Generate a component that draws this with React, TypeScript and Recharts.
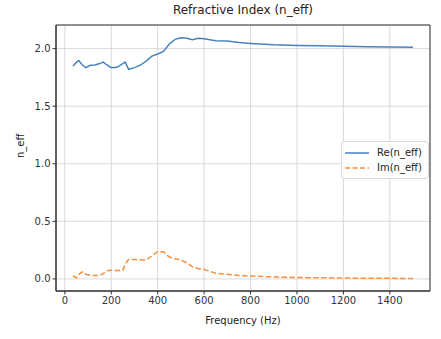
import {
  LineChart,
  Line,
  XAxis,
  YAxis,
  CartesianGrid,
  ReferenceArea,
} from 'recharts'

// Frequency samples (Hz)
const freqs = [
  35, 50, 60, 75, 90, 110, 130, 150, 165, 180, 200, 225, 250, 260, 275, 300, 325, 350, 375, 400,
  425, 450, 475, 500, 525, 550, 575, 600, 650, 700, 750, 800, 900, 1000, 1100, 1200, 1300, 1400, 1500,
]

// Re(n_eff)
const reValues = [
  1.849, 1.88, 1.897, 1.86, 1.834, 1.855, 1.857, 1.87, 1.883, 1.86, 1.834, 1.838, 1.87, 1.883, 1.82,
  1.835, 1.856, 1.89, 1.935, 1.953, 1.975, 2.04, 2.08, 2.095, 2.09, 2.078, 2.09, 2.086, 2.068, 2.065,
  2.052, 2.045, 2.034, 2.028, 2.024, 2.02, 2.016, 2.013, 2.011,
]

// Im(n_eff)
const imValues = [
  0.029, 0.009, 0.04, 0.061, 0.04, 0.031, 0.03, 0.03, 0.045, 0.07, 0.075, 0.073, 0.075, 0.13, 0.168,
  0.168, 0.167, 0.163, 0.2, 0.238, 0.235, 0.19, 0.175, 0.165, 0.14, 0.105, 0.09, 0.082, 0.05, 0.04,
  0.03, 0.025, 0.017, 0.012, 0.01, 0.008, 0.006, 0.005, 0.003,
]

const xTicks = [0, 200, 400, 600, 800, 1000, 1200, 1400]
const yTicks = [0, 0.5, 1.0, 1.5, 2.0]

const BLUE = '#4682c0'
const ORANGE = '#f5913e'
const FONT = 'DejaVu Sans, sans-serif'

const data = freqs.map((f, i) => ({ f, re: reValues[i], im: imValues[i] }))

const X_DOMAIN: [number, number] = [-38, 1573]
const Y_DOMAIN: [number, number] = [-0.105, 2.205]

const legendItems = [
  { name: 'Re(n_eff)', color: BLUE, dash: undefined },
  { name: 'Im(n_eff)', color: ORANGE, dash: '5 2.5' },
]

export default function App() {
  return (
    <div style={{ position: 'absolute', left: 0, top: 0, width: 441, height: 339, background: '#fff' }}>
      <div
        style={{
          position: 'absolute',
          left: 56,
          width: 374,
          top: 3,
          textAlign: 'center',
          fontFamily: FONT,
          fontSize: 12,
          color: '#222',
        }}
      >
        Refractive Index (n_eff)
      </div>
      <LineChart
        width={441}
        height={339}
        data={data}
        margin={{ top: 25, right: 11, bottom: 0, left: 0 }}
      >
        <CartesianGrid stroke="#d0d0d0" strokeWidth={0.8} />
        <XAxis
          dataKey="f"
          type="number"
          domain={X_DOMAIN}
          ticks={xTicks}
          allowDataOverflow
          height={48}
          stroke="#333"
          tickSize={3.5}
          tick={{ fontSize: 10, fill: '#333', fontFamily: FONT }}
          label={{ value: 'Frequency (Hz)', position: 'insideBottom', offset: 15, fontSize: 10, fill: '#222', fontFamily: FONT }}
        />
        <YAxis
          type="number"
          domain={Y_DOMAIN}
          ticks={yTicks}
          allowDataOverflow
          width={56}
          stroke="#333"
          tickSize={3.5}
          tickFormatter={(v: number) => v.toFixed(1)}
          tick={{ fontSize: 10, fill: '#333', fontFamily: FONT }}
          label={{ value: 'n_eff', angle: -90, position: 'insideLeft', offset: 20, fontSize: 10, fill: '#222', fontFamily: FONT }}
        />
        <ReferenceArea
          x1={X_DOMAIN[0]}
          x2={X_DOMAIN[1]}
          y1={Y_DOMAIN[0]}
          y2={Y_DOMAIN[1]}
          fill="none"
          stroke="#333"
          strokeWidth={1}
        />
        <Line
          type="linear"
          dataKey="re"
          name="Re(n_eff)"
          stroke={BLUE}
          strokeWidth={1.5}
          dot={false}
          isAnimationActive={false}
        />
        <Line
          type="linear"
          dataKey="im"
          name="Im(n_eff)"
          stroke={ORANGE}
          strokeWidth={1.5}
          strokeDasharray="5.5 2.4"
          dot={false}
          isAnimationActive={false}
        />
      </LineChart>
      <div
        style={{
          position: 'absolute',
          left: 341,
          top: 141,
          border: '1px solid #d8d8d8',
          borderRadius: 3,
          background: 'rgba(255,255,255,0.8)',
          padding: '3px 6px 3px 2px',
          fontFamily: FONT,
          fontSize: 10,
          color: '#222',
        }}
      >
        {legendItems.map((item) => (
          <div key={item.name} style={{ display: 'flex', alignItems: 'center', height: 15 }}>
            <svg width={26} height={6} style={{ marginRight: 7 }}>
              <line x1={1} y1={3} x2={25} y2={3} stroke={item.color} strokeWidth={1.5} strokeDasharray={item.dash} />
            </svg>
            <span>{item.name}</span>
          </div>
        ))}
      </div>
    </div>
  )
}
